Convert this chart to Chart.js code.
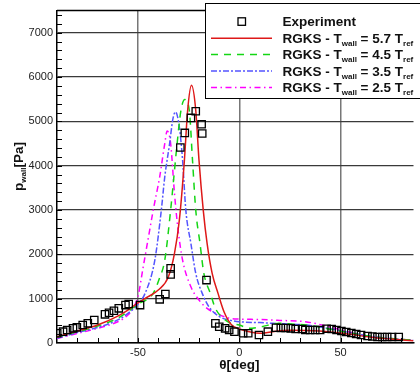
<!DOCTYPE html>
<html>
<head>
<meta charset="utf-8">
<script src="https://cdn.jsdelivr.net/npm/chart.js@4.4.1/dist/chart.umd.min.js"></script>
<style>
  html, body { margin: 0; padding: 0; background: #fff; }
</style>
</head>
<body>
<canvas id="chart" width="420" height="378"></canvas>
<script>
// Experiment (squares)
const expTheta = [-89.9, -87.0, -85.0, -82.1, -80.2, -77.3, -74.8, -71.6, -66.3, -64.3, -61.9, -59.5, -56.2, -54.6, -49.0, -39.3, -36.5, -33.9, -33.9, -29.1, -26.9, -23.9, -21.5, -18.6, -18.3, -16.2, -11.8, -9.9, -7.0, -5.0, -2.4, 1.9, 4.4, 9.7, 14.1, 18.1, 20.5, 22.9, 25.4, 27.8, 31.0, 32.6, 35.0, 37.5, 39.9, 43.1, 45.6, 48.0, 50.4, 52.8, 55.3, 57.7, 60.1, 63.3, 65.7, 68.2, 70.6, 73.0, 75.4, 78.7];
const expP = [219, 255, 293, 331, 354, 406, 444, 518, 647, 683, 728, 782, 856, 879, 856, 985, 1104, 1549, 1684, 4411, 4740, 5078, 5229, 4936, 4727, 1420, 444, 367, 331, 293, 255, 219, 219, 180, 255, 345, 338, 338, 331, 316, 316, 293, 293, 293, 293, 322, 316, 293, 270, 248, 225, 203, 180, 158, 147, 135, 135, 135, 135, 135];

// RGKS, Twall = 5.7 Tref
const t57Theta = [-90, -80, -70, -60, -55, -50, -45, -40, -35, -32, -29.6, -27.1, -25.5, -23.6, -21.5, -19.9, -17.8, -15.9, -13.4, -10.5, -7.5, -4, 0, 5, 10, 16.5, 25, 33, 45, 55, 65, 75, 86];
const t57P = [140, 270, 406, 608, 744, 908, 1044, 1194, 1494, 2022, 2772, 4125, 5252, 5815, 5252, 4125, 2998, 2247, 1571, 1120, 700, 420, 320, 255, 219, 255, 285, 280, 250, 195, 130, 90, 52];

// RGKS, Twall = 4.5 Tref
const t45Theta = [-90, -80, -70, -60, -55, -50, -45, -42.5, -39.5, -36.8, -33.9, -32.3, -30.7, -28.8, -26.9, -24.7, -23.1, -21.5, -19.4, -17.5, -14.3, -11.8, -8, -4, 0, 5, 10, 20, 26, 33, 45, 55, 65, 75, 86];
const t45P = [130, 255, 380, 560, 706, 880, 1000, 1120, 1450, 1871, 2998, 3749, 4501, 5252, 5493, 5252, 4125, 2998, 2247, 1571, 1120, 782, 560, 440, 406, 331, 360, 444, 428, 406, 310, 225, 150, 100, 60];

// RGKS, Twall = 3.5 Tref
const t35Theta = [-90, -80, -70, -60, -55, -50, -46.5, -41.7, -38.5, -36.8, -34.4, -32.8, -31.5, -29.6, -28, -26.4, -23.9, -21.5, -18.3, -15, -10, -5, 0, 10, 16.5, 32.6, 45, 55, 65, 75, 86];
const t35P = [110, 235, 350, 520, 669, 880, 1120, 1871, 2998, 3749, 4501, 5050, 5214, 4875, 4125, 2998, 2247, 1571, 1120, 818, 600, 520, 480, 460, 444, 406, 320, 230, 150, 100, 60];

// RGKS, Twall = 2.5 Tref
const t25Theta = [-90, -80, -70, -60, -55, -52, -50, -47.5, -45, -42.5, -39.3, -36.8, -35.6, -33.9, -32, -30.4, -28, -23.9, -19.9, -15.9, -10, -5, 0, 10, 20, 32.6, 45, 55, 65, 75, 86];
const t25P = [100, 215, 330, 480, 631, 820, 1050, 1700, 2350, 2998, 3749, 4501, 4786, 4501, 3374, 2621, 1871, 1269, 969, 782, 640, 560, 540, 530, 510, 480, 360, 240, 142, 90, 60];

const xTicks = [-50, 0, 50];
const yTicks = [0, 1000, 2000, 3000, 4000, 5000, 6000, 7000];
const xMinorTicks = [-80, -70, -60, -50, -40, -30, -20, -10, 0, 10, 20, 30, 40, 50, 60, 70, 80];
const yMinorTicks = [200, 400, 600, 800, 1000, 1200, 1400, 1600, 1800, 2000, 2200, 2400, 2600, 2800, 3000, 3200, 3400, 3600, 3800, 4000, 4200, 4400, 4600, 4800, 5000, 5200, 5400, 5600, 5800, 6000, 6200, 6400, 6600, 6800, 7000, 7200, 7400];

const legendRows = [
  { value: "5.7" },
  { value: "4.5" },
  { value: "3.5" },
  { value: "2.5" },
];

const FONT = "'Liberation Sans', Arial, Helvetica, sans-serif";
const RED = "rgb(222,24,24)";
const GREEN = "rgb(20,214,20)";
const BLUE = "rgb(84,84,255)";
const MAGENTA = "rgb(255,0,255)";

const zip = (xs, ys) => xs.map((x, i) => ({ x: x, y: ys[i] }));

function drawRich(ctx, parts, x, y) {
  let cx = x;
  parts.forEach((p) => {
    ctx.font = p.sub ? `bold 8px ${FONT}` : `bold 13.5px ${FONT}`;
    ctx.fillText(p.t, cx, p.sub ? y + 3 : y);
    cx += ctx.measureText(p.t).width;
  });
}

function richWidth(ctx, parts) {
  let w = 0;
  parts.forEach((p) => {
    ctx.font = p.sub ? `bold 8px ${FONT}` : `bold 13.5px ${FONT}`;
    w += ctx.measureText(p.t).width;
  });
  return w;
}

const decorPlugin = {
  id: "decor",
  afterDatasetsDraw(chart) {
    const { ctx, chartArea } = chart;
    const xs = chart.scales.x;
    const ys = chart.scales.y;
    ctx.save();
    ctx.strokeStyle = "#000";
    ctx.lineWidth = 1;
    ctx.beginPath();
    xMinorTicks.forEach((v) => {
      const px = Math.round(xs.getPixelForValue(v)) + 0.5;
      ctx.moveTo(px, chartArea.bottom);
      ctx.lineTo(px, chartArea.bottom - 5);
    });
    yMinorTicks.forEach((v) => {
      const py = Math.round(ys.getPixelForValue(v)) + 0.5;
      ctx.moveTo(chartArea.left, py);
      ctx.lineTo(chartArea.left + 5, py);
    });
    ctx.stroke();
    // top frame
    ctx.lineWidth = 1.5;
    ctx.beginPath();
    ctx.moveTo(chartArea.left, chartArea.top);
    ctx.lineTo(chartArea.right, chartArea.top);
    ctx.stroke();
    ctx.restore();
  },
  afterDraw(chart) {
    const { ctx } = chart;
    const xs = chart.scales.x;
    ctx.save();
    ctx.fillStyle = "#111";
    ctx.textBaseline = "alphabetic";

    // x title
    ctx.font = `bold 13.5px ${FONT}`;
    ctx.textAlign = "center";
    ctx.fillText("θ[deg]", xs.getPixelForValue(0), 369);

    // y title with subscript
    ctx.textAlign = "left";
    const yParts = [{ t: "p" }, { t: "wall", sub: true }, { t: "[Pa]" }];
    ctx.save();
    ctx.translate(23, 166.5);
    ctx.rotate(-Math.PI / 2);
    drawRich(ctx, yParts, -richWidth(ctx, yParts) / 2, 0);
    ctx.restore();

    // legend box
    const bx = 205.5, by = 3.5, bw = 220, bh = 95;
    ctx.fillStyle = "#fff";
    ctx.fillRect(bx, by, bw, bh);
    ctx.strokeStyle = "#000";
    ctx.lineWidth = 1;
    ctx.strokeRect(bx, by, bw, bh);

    const textX = 282.5;
    const baseY = 26.3;
    const step = 16.4;
    ctx.fillStyle = "#111";

    // experiment marker
    const exp = chart.data.datasets[0];
    ctx.strokeStyle = exp.borderColor;
    ctx.lineWidth = exp.borderWidth;
    ctx.strokeRect(238, baseY - 8.5, 7.5, 7.5);
    ctx.font = `bold 13.5px ${FONT}`;
    ctx.fillText("Experiment", textX, baseY);

    legendRows.forEach((row, i) => {
      const ds = chart.data.datasets[i + 1];
      const y = baseY + step * (i + 1);
      ctx.save();
      ctx.strokeStyle = ds.borderColor;
      ctx.lineWidth = ds.borderWidth;
      ctx.setLineDash(ds.borderDash || []);
      ctx.beginPath();
      ctx.moveTo(211, y - 4.5);
      ctx.lineTo(272, y - 4.5);
      ctx.stroke();
      ctx.restore();
      drawRich(ctx, [
        { t: "RGKS - T" },
        { t: "wall", sub: true },
        { t: ` = ${row.value} T` },
        { t: "ref", sub: true },
      ], textX, y);
    });
    ctx.restore();
  },
};

const lineDefaults = {
  showLine: true,
  fill: false,
  pointRadius: 0,
  borderWidth: 1.5,
  cubicInterpolationMode: "monotone",
};

new Chart(document.getElementById("chart"), {
  type: "scatter",
  data: {
    datasets: [
      {
        label: "Experiment",
        data: zip(expTheta, expP),
        pointStyle: "rect",
        pointRadius: 5.2,
        borderColor: "#000",
        backgroundColor: "rgba(0,0,0,0)",
        borderWidth: 1.3,
        showLine: false,
      },
      { ...lineDefaults, label: "5.7", data: zip(t57Theta, t57P), borderColor: RED },
      { ...lineDefaults, label: "4.5", data: zip(t45Theta, t45P), borderColor: GREEN, borderDash: [7, 6] },
      { ...lineDefaults, label: "3.5", data: zip(t35Theta, t35P), borderColor: BLUE, borderDash: [6, 2, 2, 2] },
      { ...lineDefaults, label: "2.5", data: zip(t25Theta, t25P), borderColor: MAGENTA, borderDash: [6, 3.5, 1.5, 3.5] },
    ],
  },
  options: {
    responsive: false,
    animation: false,
    devicePixelRatio: 1,
    layout: { padding: { top: 10, right: 0, left: 0, bottom: 0 } },
    plugins: {
      legend: { display: false },
      tooltip: { enabled: false },
    },
    scales: {
      x: {
        type: "linear",
        min: -90,
        max: 86,
        afterBuildTicks: (scale) => {
          scale.ticks = xTicks.map((v) => ({ value: v }));
        },
        afterFit: (scale) => {
          scale.height = 35;
        },
        grid: { color: "#777", lineWidth: 1.5, drawTicks: false },
        border: { color: "#000", width: 1.5 },
        ticks: {
          font: { family: FONT, size: 11 },
          color: "#222",
          padding: 3,
          maxRotation: 0,
          autoSkip: false,
          callback: (value) => String(value),
        },
      },
      y: {
        type: "linear",
        min: 0,
        max: 7500,
        afterBuildTicks: (scale) => {
          scale.ticks = yTicks.map((v) => ({ value: v }));
        },
        afterFit: (scale) => {
          scale.width = 57;
        },
        grid: { color: "#3a3a3a", lineWidth: 1.2, drawTicks: false },
        border: { color: "#000", width: 1.5 },
        ticks: {
          font: { family: FONT, size: 11 },
          color: "#222",
          padding: 4,
          autoSkip: false,
          callback: (value) => String(value),
        },
      },
    },
  },
  plugins: [decorPlugin],
});
</script>
</body>
</html>
